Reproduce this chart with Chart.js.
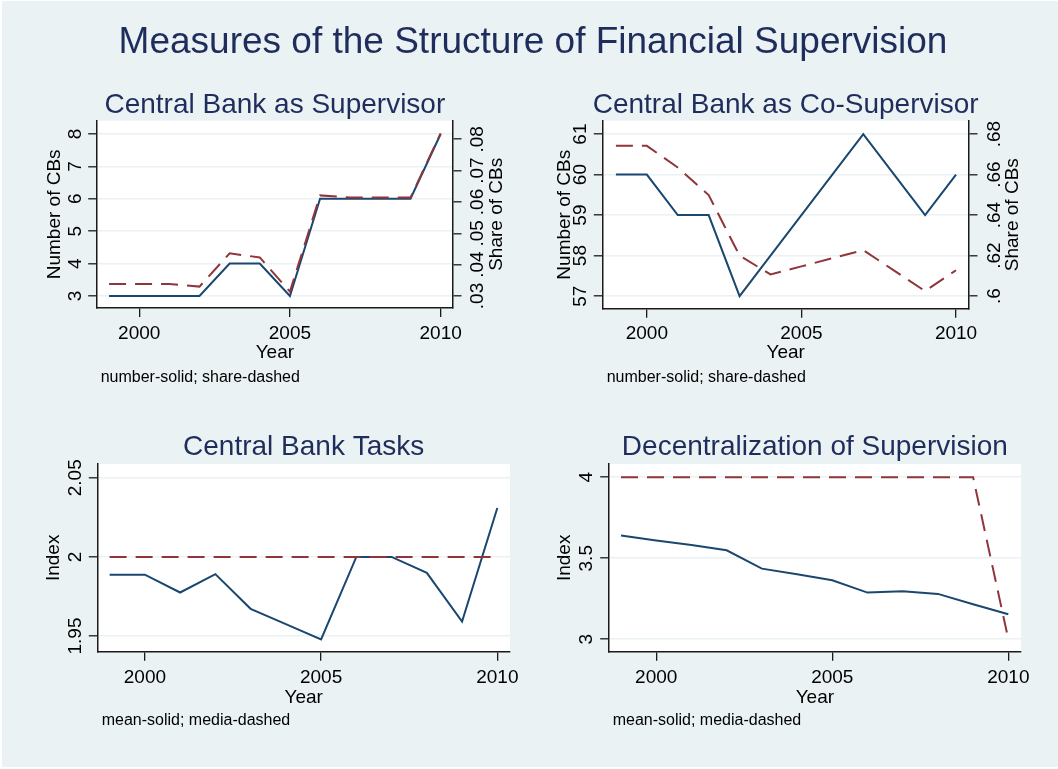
<!DOCTYPE html>
<html><head><meta charset="utf-8">
<script src="https://cdn.jsdelivr.net/npm/chart.js@4.4.1/dist/chart.umd.min.js"></script>
<style>
html,body{margin:0;padding:0;background:#fff;width:1058px;height:769px;overflow:hidden;}
#bg{position:absolute;left:2px;top:1px;width:1056px;height:766px;background:#eaf2f3;}
canvas{position:absolute;left:0;top:0;}
</style></head><body>
<div id="bg"></div>
<canvas id="c1" width="1058" height="769"></canvas>
<canvas id="c2" width="1058" height="769"></canvas>
<canvas id="c3" width="1058" height="769"></canvas>
<canvas id="c4" width="1058" height="769"></canvas>
<script>
// ---------- DATA ----------
const years = [1999,2000,2001,2002,2003,2004,2005,2006,2007,2008,2009,2010];
const xTicks = [2000,2005,2010];

// Central Bank as Supervisor
const supNumber = [3,3,3,3,4,4,3,6,6,6,6,8];
const supShare  = [0.0338,0.0338,0.0338,0.0330,0.0436,0.0423,0.0314,0.0621,0.0614,0.0614,0.0614,0.0819];
const supNumberTicks = [3,4,5,6,7,8];
const supShareTicks  = [0.03,0.04,0.05,0.06,0.07,0.08];

// Central Bank as Co-Supervisor
const coNumber = [60,60,59,59,57,58,59,60,61,60,59,60];
const coShare  = [0.6742,0.6742,0.6635,0.6499,0.6200,0.6107,0.6147,0.6187,0.6227,0.6126,0.6025,0.6128];
const coNumberTicks = [57,58,59,60,61];
const coShareTicks  = [0.6,0.62,0.64,0.66,0.68];

// Central Bank Tasks
const taskMean   = [1.9888,1.9888,1.9775,1.9891,1.9672,1.9575,1.9478,2.0,2.0,1.9899,1.9592,2.0309];
const taskMedian = [2,2,2,2,2,2,2,2,2,2,2,2];
const taskTicks  = [1.95,2,2.05];

// Decentralization of Supervision
const decMean   = [3.64,3.609,3.582,3.549,3.436,3.401,3.364,3.288,3.296,3.280,3.216,3.154];
const decMedian = [4,4,4,4,4,4,4,4,4,4,4,3];
const decTicks  = [3,3.5,4];

// ---------- STYLE ----------
const W = 1058, H = 769;
const FONT = '"Liberation Sans", Arial, Helvetica, sans-serif';
const NAVY = '#1f2d5c';
const SOLID = '#1a476f';
const DASH = '#90353b';
const AXIS = '#1a1a1a';

function fmt(v){
  let s = String(+(+v).toFixed(4));
  return s.replace(/^0\./,'.');
}
function pts(vals){ return years.map((y,i)=>({x:y,y:vals[i]})); }

function rotText(ctx, text, bx, cy){
  ctx.save();
  ctx.translate(bx, cy);
  ctx.rotate(-Math.PI/2);
  ctx.textAlign='center';
  ctx.textBaseline='alphabetic';
  ctx.fillText(text, 0, 0);
  ctx.restore();
}

const stataPlugin = {
  id:'stata',
  beforeDraw(chart){
    const a = chart.chartArea, ctx = chart.ctx;
    ctx.save();
    ctx.fillStyle = '#ffffff';
    ctx.fillRect(a.left, a.top, a.right-a.left, a.bottom-a.top);
    ctx.restore();
  },
  afterDraw(chart, args, o){
    const ctx = chart.ctx, a = chart.chartArea;
    const cx = (a.left+a.right)/2, cy = (a.top+a.bottom)/2;
    ctx.save();
    if (o.mainTitle){
      ctx.fillStyle = NAVY;
      ctx.font = '37px '+FONT;
      ctx.textAlign='center'; ctx.textBaseline='alphabetic';
      ctx.fillText(o.mainTitle, o.mainX, o.mainBase);
    }
    ctx.fillStyle = NAVY;
    ctx.font = '28px '+FONT;
    ctx.textAlign='center'; ctx.textBaseline='alphabetic';
    ctx.fillText(o.title, cx, o.titleBase);
    ctx.fillStyle = '#000';
    ctx.font = '19px '+FONT;
    const xs = chart.scales.x;
    xs.ticks.forEach(t=>{
      ctx.fillText(fmt(t.value), xs.getPixelForValue(t.value), o.xLabBase);
    });
    ctx.font = '19px '+FONT;
    ctx.fillText(o.xTitle, cx, o.xTitleBase);
    ctx.font = '16px '+FONT;
    ctx.textAlign='left';
    ctx.fillText(o.note, o.noteX, o.noteBase);
    const ys = chart.scales.y;
    ctx.font = '19px '+FONT;
    ys.ticks.forEach(t=> rotText(ctx, fmt(t.value), o.yLabX, ys.getPixelForValue(t.value)));
    ctx.font = '19px '+FONT;
    rotText(ctx, o.yTitle, o.yTitleX, cy);
    if (chart.scales.y1){
      const y1 = chart.scales.y1;
      ctx.font = '19px '+FONT;
      y1.ticks.forEach(t=> rotText(ctx, fmt(t.value), o.y1LabX, y1.getPixelForValue(t.value)));
      ctx.font = '19px '+FONT;
      rotText(ctx, o.y1Title, o.y1TitleX, cy);
    }
    ctx.restore();
  }
};

function yScale(min, max, ticks, position, gridOnArea){
  return {
    type:'linear', position, min, max,
    afterBuildTicks: s => { s.ticks = ticks.map(v=>({value:v})); },
    afterFit: s => { s.width = 0; },
    ticks:{display:false},
    grid:{display:true, drawOnChartArea:gridOnArea, color:'#eaf2f3', lineWidth:1.6,
          drawTicks:true, tickLength:8.5, tickColor:AXIS, tickWidth:1.3},
    border:{display:true, color:AXIS, width:1.5}
  };
}
function xScale(min, max){
  return {
    type:'linear', position:'bottom', min, max,
    afterBuildTicks: s => { s.ticks = xTicks.map(v=>({value:v})); },
    afterFit: s => { s.height = 0; },
    ticks:{display:false},
    grid:{display:true, drawOnChartArea:false, color:AXIS, lineWidth:1.3,
          drawTicks:true, tickLength:9, tickColor:AXIS, tickWidth:1.3},
    border:{display:true, color:AXIS, width:1.5}
  };
}
function ds(label, vals, color, dashed, axis){
  return {label, data:pts(vals), borderColor:color, backgroundColor:color,
    borderWidth:2, borderDash: dashed ? [17,9] : [], pointRadius:0, tension:0,
    yAxisID: axis || 'y', fill:false};
}

function make(id, box, scales, datasets, texts){
  return new Chart(document.getElementById(id), {
    type:'line',
    data:{datasets},
    options:{
      responsive:false, animation:false, devicePixelRatio:1,
      layout:{padding:{left:box.l, top:box.t, right:W-box.r, bottom:H-box.b}},
      scales,
      plugins:{legend:{display:false}, tooltip:{enabled:false}, title:{display:false}, stata:texts}
    },
    plugins:[stataPlugin]
  });
}

// Panel 1
make('c1', {l:96.7, r:453, t:120.7, b:308},
  { x:xScale(1998.59, 2010.41),
    y:yScale(2.63, 8.41, supNumberTicks, 'left', true),
    y1:yScale(0.02617, 0.08593, supShareTicks, 'right', false) },
  [ ds('share', supShare, DASH, true, 'y1'), ds('number', supNumber, SOLID, false, 'y') ],
  { mainTitle:'Measures of the Structure of Financial Supervision', mainX:533, mainBase:53.3,
    title:'Central Bank as Supervisor', titleBase:112.7,
    xLabBase:339.3, xTitle:'Year', xTitleBase:358.3,
    note:'number-solid; share-dashed', noteX:100.7, noteBase:381.7,
    yLabX:80.6, yTitle:'Number of CBs', yTitleX:60.2,
    y1LabX:483.3, y1Title:'Share of CBs', y1TitleX:501.8 });

// Panel 2
make('c2', {l:602.3, r:969, t:120.7, b:308.7},
  { x:xScale(1998.56, 2010.42),
    y:yScale(56.69, 61.33, coNumberTicks, 'left', true),
    y1:yScale(0.5938, 0.6866, coShareTicks, 'right', false) },
  [ ds('share', coShare, DASH, true, 'y1'), ds('number', coNumber, SOLID, false, 'y') ],
  { title:'Central Bank as Co-Supervisor', titleBase:112.7,
    xLabBase:339.3, xTitle:'Year', xTitleBase:358.3,
    note:'number-solid; share-dashed', noteX:606.7, noteBase:381.7,
    yLabX:586, yTitle:'Number of CBs', yTitleX:570.2,
    y1LabX:999.8, y1Title:'Share of CBs', y1TitleX:1018.1 });

// Panel 3
make('c3', {l:97.3, r:510, t:464, b:651.7},
  { x:xScale(1998.65, 2010.36),
    y:yScale(1.9401, 2.0587, taskTicks, 'left', true) },
  [ ds('median', taskMedian, DASH, true), ds('mean', taskMean, SOLID, false) ],
  { title:'Central Bank Tasks', titleBase:455,
    xLabBase:683.3, xTitle:'Year', xTitleBase:702.7,
    note:'mean-solid; media-dashed', noteX:101.7, noteBase:725,
    yLabX:81, yTitle:'Index', yTitleX:58.8 });

// Panel 4
make('c4', {l:608.7, r:1021, t:464, b:651.7},
  { x:xScale(1998.65, 2010.36),
    y:yScale(2.923, 4.082, decTicks, 'left', true) },
  [ ds('median', decMedian, DASH, true), ds('mean', decMean, SOLID, false) ],
  { title:'Decentralization of Supervision', titleBase:455,
    xLabBase:683.3, xTitle:'Year', xTitleBase:702.7,
    note:'mean-solid; media-dashed', noteX:612.7, noteBase:725,
    yLabX:591.8, yTitle:'Index', yTitleX:569.6 });
</script>
</body></html>
